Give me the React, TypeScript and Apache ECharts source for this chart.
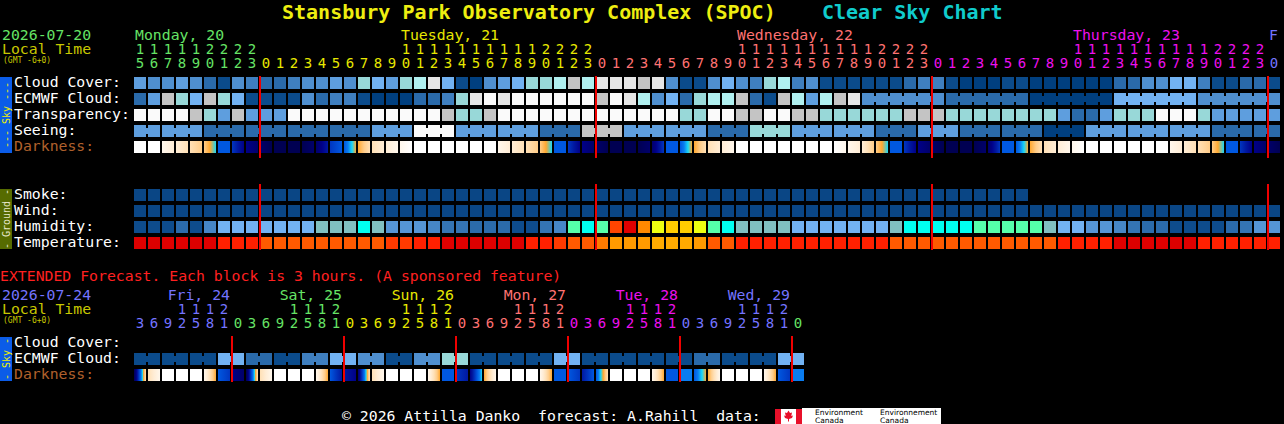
import React, { useEffect, useRef } from "react";
import * as echarts from "echarts";

// ---------------- text ----------------
const TITLE = "Stansbury Park Observatory Complex (SPOC)";
const SUBTITLE = "Clear Sky Chart";
const TOP_DATE = "2026-07-20";
const EXT_DATE = "2026-07-24";
const LOCAL_TIME = "Local Time";
const GMT_NOTE = "(GMT -6+0)";
const EXT_TITLE = "EXTENDED Forecast. Each block is 3 hours. (A sponsored feature)";
const FOOTER = "\u00a9 2026 Attilla Danko  forecast: A.Rahill  data:";

// ---------------- categories ----------------
const HOURLY_HOURS = [
  15, 16, 17, 18, 19, 20, 21, 22, 23,
  0, 1, 2, 3, 4, 5, 6, 7, 8, 9, 10, 11, 12, 13, 14, 15, 16, 17, 18, 19, 20, 21, 22, 23,
  0, 1, 2, 3, 4, 5, 6, 7, 8, 9, 10, 11, 12, 13, 14, 15, 16, 17, 18, 19, 20, 21, 22, 23,
  0, 1, 2, 3, 4, 5, 6, 7, 8, 9, 10, 11, 12, 13, 14, 15, 16, 17, 18, 19, 20, 21, 22, 23,
  0,
];
const HOURLY_DAYS = ["Monday, 20", "Tuesday, 21", "Wednesday, 22", "Thursday, 23", "F"];
const EXT_HOURS = [
  3, 6, 9, 12, 15, 18, 21,
  0, 3, 6, 9, 12, 15, 18, 21,
  0, 3, 6, 9, 12, 15, 18, 21,
  0, 3, 6, 9, 12, 15, 18, 21,
  0, 3, 6, 9, 12, 15, 18, 21,
  0, 3, 6, 9, 12, 15, 18, 21,
  0,
];
const EXT_DAYS = ["Fri, 24", "Sat, 25", "Sun, 26", "Mon, 27", "Tue, 28", "Wed, 29", ""];
const TOP_ROWS = ["Cloud Cover:", "ECMWF Cloud:", "Transparency:", "Seeing:", "Darkness:", "", "", "Smoke:", "Wind:", "Humidity:", "Temperature:"];
const EXT_ROWS = ["Cloud Cover:", "ECMWF Cloud:", "Darkness:"];

// ---------------- values (palette levels) ----------------
const CLOUD_COVER = [
  5, 4, 4, 5, 4, 2, 1, 4, 3, 2, 2, 3, 4, 4, 5, 4, 7, 6, 5, 7, 8,
  10, 6, 1, 0, 4, 5, 6, 7, 7, 8, 9, 8, 10, 10, 10, 9, 10, 4, 1, 1, 4, 6, 4, 3, 7, 8, 3, 4, 1, 1,
  1, 1, 1, 1, 2, 3, 3, 1, 0, 0, 0, 1, 1, 0, 0, 0, 0, 0, 0, 2, 2, 4, 4, 6, 6, 3, 1, 1, 2, 2, 1,
];
const ECMWF_CLOUD = [
  2, 5, 9, 7, 6, 9, 7, 6, 1, 1, 1, 1, 4, 2, 3, 3, 1, 0, 0, 0, 2,
  2, 3, 7, 10, 11, 10, 11, 11, 11, 11, 11, 11, 9, 11, 10, 8, 4, 6, 2, 7, 8, 8, 9, 2, 1, 9, 8, 5, 8, 9,
  10, 4, 4, 4, 4, 4, 4, 2, 2, 2, 2, 2, 2, 0, 0, 0, 0, 0, 0, 6, 6, 6, 6, 6, 6, 4, 4, 4, 4, 4, 4,
];
const TRANSPARENCY = [
  11, 11, 11, 11, 9, 7, 5, 9, 5, 5, 5, 11, 11, 11, 11, 11, 11, 11, 11, 11, 11,
  11, 9, 7, 7, 9, 11, 11, 11, 11, 11, 11, 11, 11, 11, 11, 11, 11, 11, 7, 7, 11, 11, 9, 9, 11, 11, 9, 9, 7, 7,
  7, 7, 7, 7, 9, 9, 9, 7, 7, 7, 7, 7, 7, 7, 7, 5, 2, 2, 5, 7, 7, 7, 11, 11, 11, 7, 5, 5, 5, 5, 5,
];
const SEEING = [
  5, 5, 5, 5, 5, 2, 2, 2, 2, 2, 2, 2, 2, 2, 2, 2, 2, 5, 5, 5, 11, 11, 11,
  5, 5, 5, 5, 5, 5, 2, 2, 2, 9, 9, 9, 5, 5, 5, 5, 5, 5, 2, 2, 2, 7, 7, 7, 5, 5, 5, 5, 5, 5,
  2, 2, 2, 5, 5, 5, 2, 2, 2, 2, 2, 2, 0, 0, 0, 5, 5, 5, 5, 5, 5, 5, 5, 5, 2, 2, 2, 2, 2,
];
const DARK_FROM = [
  0, 0, 1, 2, 3, 4, 8, 9, 11, 12, 13, 13, 13, 12, 9, 8, 5, 3, 2, 1,
  0, 0, 0, 0, 0, 0,
  1, 2, 3, 4, 8, 9, 11, 12, 13, 13, 13, 12, 8, 8, 5, 3, 2,
  0, 0, 0, 0, 0, 0, 0,
  0, 1, 2, 4, 8, 9, 11, 12, 13, 13, 13, 12, 8, 8, 5, 3, 2, 1,
  0, 0, 0, 0, 0, 0,
  1, 2, 3, 4, 8, 9, 11, 12,
];
const DARK_TO = [
  0, 0, 2, 3, 4, 6, 8, 11, 12, 13, 13, 13, 12, 10, 8, 5, 3, 2, 1, 0,
  0, 0, 0, 0, 0, 0,
  2, 3, 4, 6, 8, 11, 12, 13, 13, 13, 12, 9, 8, 5, 3, 2, 1,
  0, 0, 0, 0, 0, 0, 0,
  1, 2, 4, 6, 8, 11, 12, 13, 13, 13, 12, 9, 8, 5, 3, 2, 1, 0,
  0, 0, 0, 0, 0, 0,
  2, 3, 4, 6, 8, 11, 12, 13,
];
const SMOKE = [
  1, 1, 1, 1, 1, 1, 1, 1, 1, 1, 1, 1, 1, 1, 1, 1, 1, 1, 1, 1, 1, 1, 1, 1, 1, 1, 1, 1, 1, 1, 1, 1,
  1, 1, 1, 1, 1, 1, 1, 1, 1, 1, 1, 1, 1, 1, 1, 1, 1, 1, 1, 1, 1, 1, 1, 1, 1, 1, 1, 1, 1, 1, 1, 1,
];
const WIND = [
  1, 1, 1, 1, 1, 1, 1, 1, 1, 1, 1, 1, 1, 1, 1, 1, 1, 1, 1, 1, 1, 1, 1, 1, 1, 1, 1, 1, 1, 1, 1, 1, 1, 1, 1, 1, 1, 1, 1, 1, 1,
  1, 1, 1, 1, 1, 1, 1, 1, 1, 1, 1, 1, 1, 1, 1, 1, 1, 1, 1, 1, 1, 1, 1, 1, 1, 1, 1, 1, 1, 1, 1, 1, 1, 1, 1, 1, 1, 1, 1, 1, 1,
];
const HUMIDITY = [
  0, 0, 0, 1, 0, 3, 5, 5, 5, 5, 5, 5, 5, 6, 6, 6, 7, 6, 4, 4, 4, 3, 2, 2, 1, 1, 1, 0, 0, 2, 3, 8, 7, 8,
  12, 13, 11, 9, 10, 10, 9, 8, 7, 6, 6, 6, 6, 5, 5, 5, 5, 5, 5, 5, 6, 7, 7, 7, 7, 7, 8, 8, 8, 8, 8,
  6, 5, 5, 4, 4, 3, 2, 1, 1, 0, 0, 0, 0, 1, 2, 4, 4,
];
const TEMPERATURE = [
  0, 0, 0, 0, 0, 0, 1, 1, 1, 3, 3, 3, 3, 3, 3, 3, 3, 3, 2, 2, 1, 1, 0, 0, 0, 0, 0, 0, 1, 1, 2, 3, 3, 4,
  5, 5, 5, 6, 6, 6, 5, 3, 3, 1, 1, 1, 1, 1, 1, 1, 1, 1, 1, 1, 3, 3, 3, 3, 3, 3, 3, 3, 3, 3, 3, 3,
  1, 1, 1, 1, 0, 0, 0, 0, 0, 0, 1, 1, 1, 1, 1, 1,
];
const EXT_ECMWF = [
  1, 1, 1, 1, 1, 1, 6, 6, 2, 2, 1, 1, 3, 3, 6, 6, 4, 4, 1, 1, 4, 4, 7, 7,
  1, 1, 1, 1, 1, 1, 6, 6, 1, 1, 1, 1, 1, 1, 1, 1, 2, 2, 1, 1, 1, 1, 6, 6,
];
const EXT_DARK_FROM = [
  13, 3, 0, 0, 0, 1, 8,
  11, 13, 3, 0, 0, 0, 1, 8,
  10, 12, 3, 0, 0, 0, 1, 8,
  9, 11, 5, 0, 0, 0, 1, 8,
  8, 10, 8, 0, 0, 0, 1, 8,
  7, 8, 5, 0, 0, 0, 1, 8,
  7,
];
const EXT_DARK_TO = [
  3, 1, 0, 0, 0, 5, 9,
  12, 3, 1, 0, 0, 0, 5, 10,
  11, 3, 1, 0, 0, 0, 5, 8,
  10, 6, 1, 0, 0, 0, 5, 8,
  9, 8, 3, 0, 0, 0, 5, 8,
  7, 5, 1, 0, 0, 0, 5, 9,
  7,
];

// ---------------- palettes & styles ----------------
const SKY_COLORS = ["#003F7F", "#0B4B8B", "#2A6AAA", "#3F7FBF", "#4F8FCF", "#5E9EDE", "#72B2F2", "#98D8D8", "#B0F0F0", "#C4C4C4", "#E6E6E6", "#FAFAFA"];
const GROUND_COLORS = ["#003F7F", "#0A4685"];
const HUM_COLORS = ["#0E4C8C", "#2B6BAB", "#3474B4", "#4686C6", "#5595D5", "#72B2F2", "#80C0C0", "#00FFF0", "#55FFAA", "#EEFF11", "#FFCC00", "#FF8800", "#FF4400", "#E00000"];
const TEMP_COLORS = ["#DD0000", "#FF2000", "#FF3A00", "#FF5A00", "#FF7A00", "#FF9A00", "#FFAA00"];
const DARK_COLORS = ["#FFFFFF", "#FFF7EC", "#FFEDD6", "#FFE0B6", "#FFCC88", "#FFA830", "#18D8F8", "#0A7CF0", "#0058E0", "#0036C0", "#0018A0", "#000088", "#00006A", "#000052"];
const DAY_COLORS = ["#66E466", "#E8E800", "#FF7272", "#EE10EE", "#7474FF"];
const TOP_FIRST_DAY_COLOR = 0;
const EXT_FIRST_DAY_COLOR = 4;
const MONO = '"DejaVu Sans Mono", "Liberation Mono", monospace';
const FS = 14.8;
const DIGIT_FS = 14;
const RED = "#F00000";
const LOCAL_COLOR = "#C8C800";
const DARK_LABEL = "#B0602C";
const SKY_BAR = "#0B5CE8";
const GROUND_BAR = "#566B00";

const GRID_LEFT = 134;
const COL_W = 14;
const ROW_H = 16;
const CELL_H = 12;
const CELL_GAP = 2;
const CELL_SHIFT = 2; // cells sit 2px below the centre of their row band
const TOP_GRID_TOP = 73;
const EXT_GRID_TOP = 333;
const ECMWF_6H_FROM = 52;

type Cell = { col: number; row: number; fill: any; link: boolean };

function darkFill(a: number, b: number) {
  if (a === b) return DARK_COLORS[a];
  const step = a < b ? 1 : -1;
  const idx: number[] = [];
  for (let k = a; k !== b + step; k += step) idx.push(k);
  return new echarts.graphic.LinearGradient(
    0, 0, 1, 0,
    idx.map((k, j) => ({ offset: j / (idx.length - 1), color: DARK_COLORS[k] }))
  );
}

function flatCells(values: number[], row: number, palette: string[], linkFn?: (c: number) => boolean): Cell[] {
  const out: Cell[] = [];
  values.forEach((v, c) => {
    if (v === null || v === undefined) return;
    const next = values[c + 1];
    out.push({ col: c, row, fill: palette[v], link: !!linkFn && next === v && linkFn(c) });
  });
  return out;
}

function gradientCells(from: number[], to: number[], row: number): Cell[] {
  return from.map((f, c) => ({ col: c, row, fill: darkFill(f, to[c]), link: false }));
}

function cellSeries(cells: Cell[], gridIdx: number) {
  return {
    type: "custom",
    xAxisIndex: gridIdx * 2,
    yAxisIndex: gridIdx,
    silent: true,
    z: 2,
    data: cells.map((c) => [c.col, c.row]),
    renderItem: (params: any, api: any) => {
      const cell = cells[params.dataIndex];
      const p = api.coord([cell.col, cell.row]);
      const s = api.size([1, 1]);
      const x = p[0] - s[0] / 2;
      const y = p[1] - CELL_H / 2 + CELL_SHIFT;
      const w = s[0] - CELL_GAP;
      const children: any[] = [
        { type: "rect", shape: { x, y, width: w, height: CELL_H }, style: { fill: cell.fill } },
      ];
      if (cell.link) {
        children.push({
          type: "rect",
          shape: { x: x + w - 1, y: y + 3, width: CELL_GAP + 2, height: CELL_H - 6 },
          style: { fill: cell.fill },
        });
      }
      return { type: "group", children };
    },
  };
}

function midnightSeries(hours: number[], gridIdx: number, spans: number[][]) {
  const cols = hours.map((h, i) => (i > 0 && h < hours[i - 1] ? i : -1)).filter((i) => i > 0);
  return {
    type: "custom",
    xAxisIndex: gridIdx * 2,
    yAxisIndex: gridIdx,
    silent: true,
    z: 5,
    data: cols.map((c) => [c, 0]),
    renderItem: (params: any, api: any) => {
      const col = cols[params.dataIndex];
      const x = api.coord([col, 0])[0] - api.size([1, 1])[0] / 2 - 1;
      const children = spans.map(([ra, oa, rb, ob]) => {
        const y0 = api.coord([col, ra])[1] + oa;
        const y1 = api.coord([col, rb])[1] + ob;
        return { type: "rect", shape: { x, y: y0, width: 2, height: y1 - y0 }, style: { fill: RED } };
      });
      return { type: "group", children };
    },
  };
}

function dayIndexOf(hours: number[]) {
  let d = 0;
  return hours.map((h, i) => {
    if (i > 0 && h < hours[i - 1]) d++;
    return d;
  });
}

function labelAxis(gridIndex: number, data: string[], colors: string[], offset: number) {
  return {
    gridIndex,
    type: "category",
    data,
    position: "top",
    offset,
    axisLine: { show: false },
    axisTick: { show: false },
    splitLine: { show: false },
    axisLabel: {
      interval: 0,
      margin: 10,
      verticalAlign: "middle",
      fontFamily: MONO,
      fontSize: DIGIT_FS,
      lineHeight: 13,
      padding: [0, 2, 0, 0],
      color: (_v: any, i: number) => colors[i],
    },
  };
}

function rowAxis(gridIndex: number, data: string[]) {
  return {
    gridIndex,
    type: "category",
    data,
    inverse: true,
    axisLine: { show: false },
    axisTick: { show: false },
    splitLine: { show: false },
    axisLabel: {
      interval: 0,
      margin: GRID_LEFT - 14,
      align: "left",
      verticalAlign: "middle",
      fontFamily: MONO,
      fontSize: FS,
      lineHeight: 15,
      color: (v: any) => (v === "Darkness:" ? DARK_LABEL : "#FFFFFF"),
    },
  };
}

function T(text: string, x: number, y: number, fill: string, opts: any = {}) {
  return {
    type: "text",
    x,
    y,
    silent: true,
    rotation: opts.rotation || 0,
    style: {
      text,
      fill,
      font: opts.font || `${FS}px ${MONO}`,
      lineHeight: opts.lineHeight || 13,
      textAlign: opts.align || "left",
      textVerticalAlign: "middle",
    },
  };
}

function R(x: number, y: number, w: number, h: number, fill: string) {
  return { type: "rect", silent: true, shape: { x, y, width: w, height: h }, style: { fill } };
}

function buildOption() {
  const topDay = dayIndexOf(HOURLY_HOURS);
  const extDay = dayIndexOf(EXT_HOURS);
  const topColors = topDay.map((d) => DAY_COLORS[(TOP_FIRST_DAY_COLOR + d) % 5]);
  const extColors = extDay.map((d) => DAY_COLORS[(EXT_FIRST_DAY_COLOR + d) % 5]);
  const ones = (hs: number[]) => hs.map((h) => String(h % 10));
  const tens = (hs: number[]) => hs.map((h) => (h >= 10 ? String(Math.floor(h / 10)) : ""));

  const topCells: Cell[] = [
    ...flatCells(CLOUD_COVER, 0, SKY_COLORS),
    ...flatCells(ECMWF_CLOUD, 1, SKY_COLORS, (c) => c >= ECMWF_6H_FROM && HOURLY_HOURS[c + 1] % 6 !== 1),
    ...flatCells(TRANSPARENCY, 2, SKY_COLORS),
    ...flatCells(SEEING, 3, SKY_COLORS, (c) => c + 1 < HOURLY_HOURS.length && HOURLY_HOURS[c + 1] % 3 !== 2),
    ...gradientCells(DARK_FROM, DARK_TO, 4),
    ...flatCells(SMOKE, 7, GROUND_COLORS),
    ...flatCells(WIND, 8, GROUND_COLORS),
    ...flatCells(HUMIDITY, 9, HUM_COLORS),
    ...flatCells(TEMPERATURE, 10, TEMP_COLORS),
  ];
  const extCells: Cell[] = [
    ...flatCells(EXT_ECMWF, 1, SKY_COLORS, (c) => c + 1 < EXT_HOURS.length && EXT_HOURS[c + 1] % 6 !== 3),
    ...gradientCells(EXT_DARK_FROM, EXT_DARK_TO, 2),
  ];

  const small = `8px ${MONO}`;
  const tiny = `7.5px "DejaVu Sans", sans-serif`;
  const graphics: any[] = [
    T(TITLE, 282, 12, "#EEEE10", { font: `bold 20px ${MONO}`, lineHeight: 20 }),
    T(SUBTITLE, 822, 12, "#10CCCC", { font: `bold 20px ${MONO}`, lineHeight: 20 }),
    T(TOP_DATE, 2, 34, DAY_COLORS[TOP_FIRST_DAY_COLOR]),
    T(LOCAL_TIME, 2, 48.5, LOCAL_COLOR),
    T(GMT_NOTE, 3, 60.5, LOCAL_COLOR, { font: small, lineHeight: 8 }),
    T(EXT_TITLE, 0, 275, "#FF2020"),
    T(EXT_DATE, 2, 294, DAY_COLORS[EXT_FIRST_DAY_COLOR]),
    T(LOCAL_TIME, 2, 308.5, LOCAL_COLOR),
    T(GMT_NOTE, 3, 320.5, LOCAL_COLOR, { font: small, lineHeight: 8 }),
    // side bars
    R(0, 77, 12, 76, SKY_BAR),
    T("--- Sky ---", 6, 115, "#F0F000", { font: `10px ${MONO}`, align: "center", rotation: Math.PI / 2, lineHeight: 10 }),
    R(0, 189, 12, 60, GROUND_BAR),
    T("- Ground -", 6, 219, "#E6E6C8", { font: `10px ${MONO}`, align: "center", rotation: Math.PI / 2, lineHeight: 10 }),
    R(0, 337, 12, 44, SKY_BAR),
    T("- Sky -", 6, 359, "#F0F000", { font: `10px ${MONO}`, align: "center", rotation: Math.PI / 2, lineHeight: 10 }),
    // footer
    T(FOOTER, 342, 415, "#FFFFFF"),
    R(775, 409, 6, 15, "#E8102A"),
    R(781, 409, 15, 15, "#FFFFFF"),
    R(796, 409, 6, 15, "#E8102A"),
    {
      type: "polygon",
      silent: true,
      shape: {
        points: [
          [788.5, 410.5], [790, 413], [792, 412.5], [791.3, 416], [793, 415.5], [792, 418],
          [789, 419], [789, 421.5], [788, 421.5], [788, 419], [785, 418], [784, 415.5],
          [785.7, 416], [785, 412.5], [787, 413],
        ],
      },
      style: { fill: "#E8102A" },
    },
    R(802, 408, 139, 16, "#FFFFFF"),
    T("Environment", 815, 412.5, "#000000", { font: tiny, lineHeight: 7 }),
    T("Canada", 815, 420, "#000000", { font: tiny, lineHeight: 7 }),
    T("Environnement", 880, 412.5, "#000000", { font: tiny, lineHeight: 7 }),
    T("Canada", 880, 420, "#000000", { font: tiny, lineHeight: 7 }),
  ];

  // day labels, hourly section: start at the first column of the day showing a tens digit
  HOURLY_DAYS.forEach((name, d) => {
    const cols = topDay.map((dd, i) => (dd === d ? i : -1)).filter((i) => i >= 0);
    if (!cols.length || !name) return;
    const withTens = cols.filter((i) => HOURLY_HOURS[i] >= 10);
    const col = withTens.length ? withTens[0] : cols[0];
    graphics.push(T(name, GRID_LEFT + COL_W * col + 1, 34, DAY_COLORS[(TOP_FIRST_DAY_COLOR + d) % 5]));
  });
  // day labels, extended section: right-aligned to the last block of the day
  EXT_DAYS.forEach((name, d) => {
    const cols = extDay.map((dd, i) => (dd === d ? i : -1)).filter((i) => i >= 0);
    if (!cols.length || !name) return;
    const col = cols[cols.length - 1];
    graphics.push(
      T(name, GRID_LEFT + COL_W * col + COL_W - CELL_GAP, 294, DAY_COLORS[(EXT_FIRST_DAY_COLOR + d) % 5], { align: "right" })
    );
  });

  return {
    animation: false,
    backgroundColor: "#000000",
    grid: [
      {
        left: GRID_LEFT, top: TOP_GRID_TOP, width: COL_W * HOURLY_HOURS.length, height: ROW_H * TOP_ROWS.length,
        containLabel: false, outerBoundsMode: "none", show: false,
      },
      {
        left: GRID_LEFT, top: EXT_GRID_TOP, width: COL_W * EXT_HOURS.length, height: ROW_H * EXT_ROWS.length,
        containLabel: false, outerBoundsMode: "none", show: false,
      },
    ],
    xAxis: [
      labelAxis(0, ones(HOURLY_HOURS), topColors, 0),
      labelAxis(0, tens(HOURLY_HOURS), topColors, 14.5),
      labelAxis(1, ones(EXT_HOURS), extColors, 0),
      labelAxis(1, tens(EXT_HOURS), extColors, 14.5),
    ],
    yAxis: [rowAxis(0, TOP_ROWS), rowAxis(1, EXT_ROWS)],
    series: [
      cellSeries(topCells, 0),
      cellSeries(extCells, 1),
      midnightSeries(HOURLY_HOURS, 0, [[0, -5, 4, 13], [7, -9, 10, 9]]),
      midnightSeries(EXT_HOURS, 1, [[0, -5, 2, 9]]),
    ],
    graphic: { elements: graphics },
  };
}

export default function App() {
  const ref = useRef<HTMLDivElement>(null);
  useEffect(() => {
    document.body.style.margin = "0";
    document.body.style.background = "#000000";
    const chart = echarts.init(ref.current as HTMLDivElement, null, { renderer: "svg" });
    chart.setOption(buildOption() as any);
    return () => chart.dispose();
  }, []);
  return <div ref={ref} style={{ width: 1284, height: 424, background: "#000000" }} />;
}
